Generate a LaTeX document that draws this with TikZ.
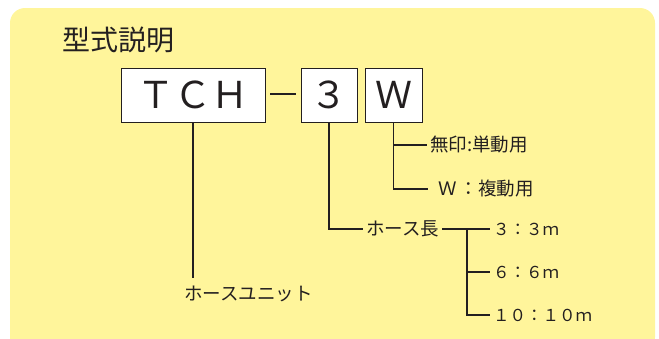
\documentclass[tikz,border=0pt]{standalone}
\usepackage{fontspec}
\setmainfont{Noto Sans CJK JP}
\usepackage{tikz}
\usetikzlibrary{positioning}
\definecolor{jaune}{HTML}{FFF59B}
\definecolor{encre}{HTML}{231F20}

\begin{document}
\begin{tikzpicture}[x=1pt,y=-1pt,
    case/.style={draw=encre,fill=white,line width=0.9pt,inner sep=0pt,
      minimum height=54pt,text=encre,font=\fontsize{37}{37}\selectfont},
    legende/.style={anchor=west,inner xsep=3pt,inner ysep=0pt,text=encre,
      font=\fontsize{18.5}{18.5}\selectfont},
    chiffre/.style={anchor=west,inner xsep=3pt,inner ysep=0pt,text=encre,
      font=\fontsize{16.5}{16.5}\selectfont},
    trait/.style={encre,line width=1.1pt}]
  \useasboundingbox (0,0) rectangle (659,338);
  \fill[jaune,rounded corners=15pt] (10,8) rectangle (655,352);

  \coordinate (A1) at (193,95);
  \coordinate (A2) at (329,95);
  \coordinate (A3) at (393.5,95);
  \coordinate (D1) at (270,94);
  \coordinate (D2) at (296,94);
  \coordinate (U) at (193,278);
  \coordinate (F) at (467,229);

  \node[anchor=west,text=encre,font=\fontsize{28}{28}\selectfont]
    at (59,40) (titre) {型式説明};

  \node[
    case,
    minimum width=144pt] at (A1) (tch) {ＴＣＨ};
  \node[
    case,
    minimum width=56pt] at (A2) (trois) {３};
  \node[
    case,
    minimum width=57pt] at (A3) (w) {Ｗ};
  \draw[encre,line width=2.6pt] (D1) -- (D2);

  \node[legende] at (427,145) (simple) {無印:単動用};
  \node[legende] at (428,189) (double) {\hspace{7pt}Ｗ\hspace{3pt}：複動用};
  \node[legende] at (363,229) (long) {ホース長};
  \node[legende] at (181,294) (unite) {ホースユニット};

  \node[chiffre] at (490,229) (m3) {３：３ｍ};
  \node[chiffre] at (490,272) (m6) {６：６ｍ};
  \node[chiffre] at (490,315) (m10) {１０：１０ｍ};

  \draw[trait] (tch.south) -- (U);
  \draw[trait] (trois.south) |- (long.west);
  \draw[trait] (w.south) |- (double.west);
  \draw[trait] (w.south |- simple.west) -- (simple.west);
  \draw[trait] (long.east) -- (m3.west);
  \draw[trait] (F) |- (m10.west);
  \draw[trait] (F |- m6.west) -- (m6.west);

\end{tikzpicture}
\end{document}
